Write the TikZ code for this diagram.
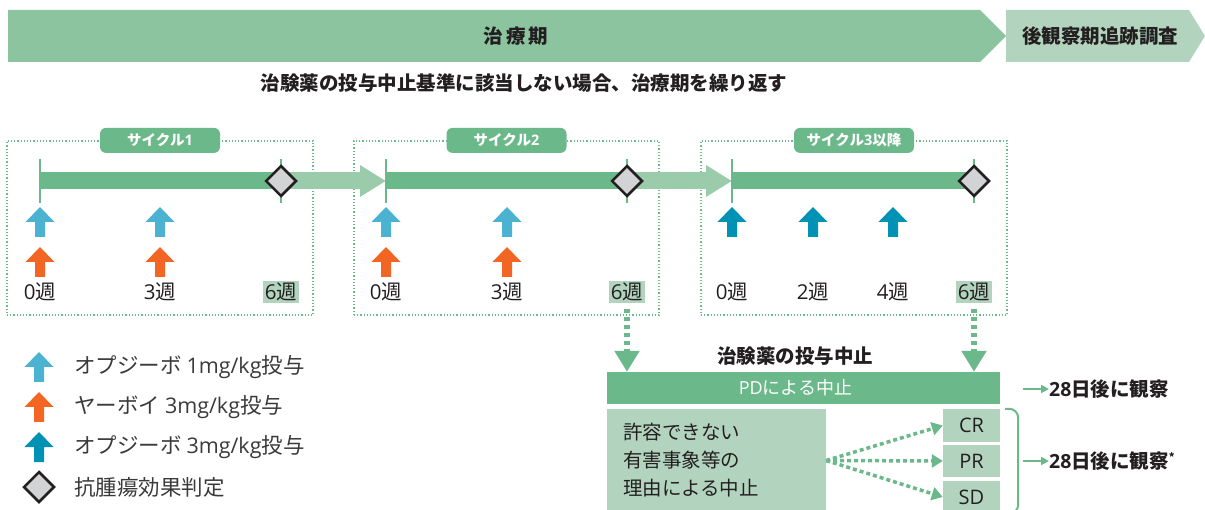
\documentclass[tikz,border=0pt]{standalone}
\usepackage{fontspec}
\setmainfont{Noto Sans CJK JP}
\newfontfamily\latinf{Open Sans}
\usepackage{xcolor}
\usetikzlibrary{
  arrows.meta,
  positioning,
  calc,
  shapes.geometric
}
\newcommand{\fsz}[1]{\fontsize{#1}{#1}\selectfont}
\newcommand{\lat}[1]{{\latinf #1}}
\definecolor{phasegreen}{HTML}{8CC4A0}
\definecolor{followgreen}{HTML}{B2D4BE}
\definecolor{bargreen}{HTML}{6BB88A}
\definecolor{linkgreen}{HTML}{9ACBAA}
\definecolor{nivolight}{HTML}{4BB3D1}
\definecolor{ipiorange}{HTML}{F26522}
\definecolor{nivodark}{HTML}{0092B5}
\definecolor{evalgray}{HTML}{D1D3D4}
\definecolor{inkdark}{HTML}{231F20}
\definecolor{inkgray}{HTML}{3A3A3A}

\tikzset{
  dose/.pic={\fill[#1] (-5,0) -- (-5,-15) -- (-14.5,-15) -- (0,-30)
    -- (14.5,-15) -- (5,-15) -- (5,0) -- cycle;},
  headtxt/.style={font=\bfseries\fsz{19.5},text=inkdark},
  cycbox/.style={draw=bargreen,dotted,line width=1.2pt,inner sep=0,
    minimum height=174},
  cyctag/.style={fill=bargreen,rounded corners=6pt,text=white,
    font=\bfseries\fsz{14.5},minimum width=120,minimum height=25,inner sep=0},
  cycbar/.style={bargreen,line width=17pt},
  cyctick/.style={bargreen,line width=2pt},
  cyclink/.style={linkgreen,line width=17pt,-{Triangle[width=30pt,length=26pt]}},
  evaldiam/.style={diamond,draw=inkdark,line width=2.5pt,fill=evalgray,
    minimum width=31,minimum height=31,inner sep=0},
  wk/.style={font=\fsz{20.5},text=inkdark,inner xsep=2,inner ysep=1,
    minimum height=22},
  wkend/.style={wk,fill=followgreen},
  dropline/.style={bargreen,line width=6pt,dash pattern=on 4pt off 4pt,
    shorten <=6pt,-{Triangle[width=24pt,length=21pt]}},
  pdbox/.style={fill=bargreen,text=white,font=\fsz{18},minimum width=393,
    minimum height=32,inner sep=0},
  aebox/.style={fill=followgreen,text=inkdark,font=\fontsize{19.5}{28}\selectfont,
    align=left,text width=187,inner xsep=16,minimum height=103},
  resp/.style={fill=followgreen,text=inkdark,font=\fsz{20},minimum width=57,
    minimum height=32,inner sep=0},
  resplink/.style={bargreen,line width=3.5pt,dash pattern=on 4pt off 3pt,
    -{Triangle[width=13pt,length=11pt]}},
  obslink/.style={bargreen,line width=2pt,-{Triangle[width=8pt,length=8pt]}},
  obs/.style={font=\bfseries\fsz{19.5},text=inkdark,anchor=west,inner sep=0},
  legtxt/.style={font=\fsz{21.5},text=inkgray,anchor=west,inner sep=0}
}

\begin{document}
\begin{tikzpicture}[x=1pt,y=-1pt]
  \useasboundingbox (0,0) rectangle (1205,510);

  % phase banners
  \fill[phasegreen] (8,10) -- (980,10) -- (1006,36) -- (980,62) -- (8,62) -- cycle;
  \fill[followgreen] (1006,10) -- (1189,10) -- (1205,36) -- (1189,62) -- (1006,62) -- cycle;
  \node[headtxt] (trt) at (516,36) {治\kern3pt 療\kern3pt 期};
  \node[headtxt] (fup) at (1100,36) {後観察期追跡調査};
  \node[headtxt] (rep) at (524,83) {治験薬の投与中止基準に該当しない場合、治療期を繰り返す};

  % cycle frames
  \node[cycbox,minimum width=306] (c1) at (160,228) {};
  \node[cycbox,minimum width=305] (c2) at (506.5,228) {};
  \node[cycbox,minimum width=306] (c3) at (854,228) {};
  \node[cyctag] (g1) at (c1.north) {サイクル\lat{1}};
  \node[cyctag] (g2) at (c2.north) {サイクル\lat{2}};
  \node[cyctag] (g3) at (c3.north) {サイクル\lat{3}以降};

  % timelines
  \coordinate (t1) at (40,181);
  \coordinate (t2) at (386,181);
  \coordinate (t3) at (732,181);
  \coordinate (e1) at (281,181);
  \coordinate (e2) at (627,181);
  \coordinate (e3) at (974,181);
  \draw[cycbar] (t1) -- (e1);
  \draw[cycbar] (t2) -- (e2);
  \draw[cycbar] (t3) -- (e3);
  \draw[cyclink] (e1) -- (t2);
  \draw[cyclink] (e2) -- (t3);
  \foreach \p in {t1,t2,t3,e1,e2,e3}
    \draw[cyctick] ($(\p)+(0,-22)$) -- ($(\p)+(0,22)$);
  \node[evaldiam] (d1) at (e1) {};
  \node[evaldiam] (d2) at (e2) {};
  \node[evaldiam] (d3) at (e3) {};

  % doses
  \foreach \x in {40,160,386,507} {
    \pic at (\x,237) {dose=nivolight};
    \pic at (\x,277) {dose=ipiorange};
  }
  \foreach \x in {732,813,893}
    \pic at (\x,237) {dose=nivodark};

  % week labels
  \node[wk] (w10) at (40,292) {\lat{0}週};
  \node[wk] (w13) at (160,292) {\lat{3}週};
  \node[wkend] (w16) at (281,292) {\lat{6}週};
  \node[wk] (w20) at (386,292) {\lat{0}週};
  \node[wk] (w23) at (507,292) {\lat{3}週};
  \node[wkend] (w26) at (627,292) {\lat{6}週};
  \node[wk] (w30) at (732,292) {\lat{0}週};
  \node[wk] (w32) at (813,292) {\lat{2}週};
  \node[wk] (w34) at (893,292) {\lat{4}週};
  \node[wkend] (w36) at (974,292) {\lat{6}週};

  % discontinuation
  \node[headtxt] (stop) at (795,356) {治験薬の投与中止};
  \node[pdbox] (pd) at (803.5,388) {\hspace*{-16pt}\lat{PD}による中止};
  \node[aebox] (ae) at (716.5,460.5) {許容できない\\有害事象等の\\理由による中止};
  \draw[dropline] (w26.south) -- (w26.south |- pd.north);
  \draw[dropline] (w36.south) -- (w36.south |- pd.north);

  \node[resp,minimum height=33] (cr) at (971.5,425.5) {\lat{CR}};
  \node[resp] (pr) at (971.5,461) {\lat{PR}};
  \node[resp,minimum height=33] (sd) at (971.5,497) {\lat{SD}};
  \foreach \r in {cr,pr,sd}
    \draw[resplink] (ae.east) -- (\r.west);
  \draw[bargreen,line width=2pt,rounded corners=9pt]
    ($(cr.north east)+(5,0)$) -- ++(13,0) -- ($(sd.south east)+(18,0)$) -- ++(-13,0);

  \node[obs] (obs1) at (1049,389) {\lat{28}日後に観察};
  \node[obs] (obs2) at (1049,461) {\lat{28}日後に観察\raisebox{7pt}{\fsz{11}*}};
  \coordinate (oa1) at (1023,389);
  \coordinate (oa2) at (1023,461);
  \draw[obslink] (oa1) -- (obs1.west);
  \draw[obslink] (oa2) -- (obs2.west);

  % legend
  \pic at (39,382) {dose=nivolight};
  \pic at (39,422) {dose=ipiorange};
  \pic at (39,462) {dose=nivodark};
  \node[evaldiam] (lgd) at (39,487) {};
  \node[legtxt] (l1) at (74,367) {オプジーボ \lat{1mg/kg}投与};
  \node[legtxt] (l2) at (74,407) {ヤーボイ \lat{3mg/kg}投与};
  \node[legtxt] (l3) at (74,447) {オプジーボ \lat{3mg/kg}投与};
  \node[legtxt] (l4) at (74,487) {抗腫瘍効果判定};
\end{tikzpicture}
\end{document}
